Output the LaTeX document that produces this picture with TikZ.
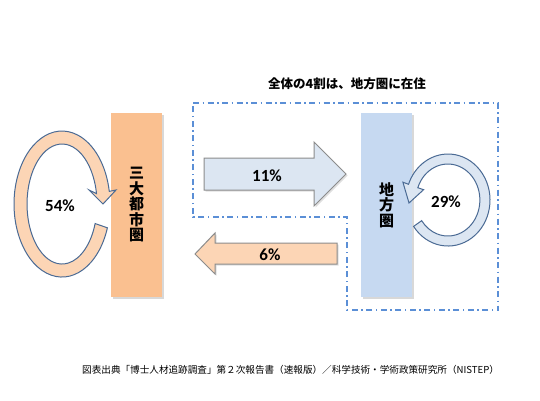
\documentclass[tikz,border=0pt]{standalone}
\usepackage{fontspec}
\newfontfamily\jp{Noto Sans CJK JP}
\newfontfamily\lat{Carlito}
\usetikzlibrary{shadows}
\definecolor{orgR}{HTML}{FAC090}
\definecolor{bluR}{HTML}{C6D9F1}
\definecolor{orgL}{HTML}{FCD5B5}
\definecolor{bluL}{HTML}{DCE6F2}
\definecolor{edgeB}{HTML}{4A6A94}
\definecolor{edgeG}{HTML}{8C8C8C}
\definecolor{dd}{HTML}{5B8FD6}
\begin{document}
\begin{tikzpicture}[x=1pt,y=1pt,
  areabox/.style={inner sep=0pt, minimum width=51pt, minimum height=184pt,
    align=center, font={\jp\bfseries\fontsize{15}{15.5}\selectfont},
    drop shadow={opacity=0.3, shadow xshift=2pt, shadow yshift=-2pt}},
  blockarrow/.style={draw=edgeG, line width=1pt, line join=miter,
    drop shadow={opacity=0.25, shadow xshift=1.5pt, shadow yshift=-1.5pt}},
  looparrow/.style={draw=edgeB, line width=1pt, line join=miter},
  pct/.style={font={\lat\bfseries\fontsize{17}{17}\selectfont}, inner sep=0pt},
  region/.style={draw=dd, line width=1.1pt, dash pattern=on 6pt off 3.5pt on 1.5pt off 3.5pt}
]
\useasboundingbox (0,0) rectangle (540,400);
\fill[white] (0,0) rectangle (540,400);

% region outline
\draw[region] (193,297) -- (498,297) -- (498,90) -- (347,90) -- (347,183) -- (193,183) -- cycle;

% title
\node[font={\jp\bfseries\fontsize{12.5}{13}\selectfont}, inner sep=0pt] (title) at (347,316) {全体の4割は、地方圏に在住};

% area boxes
\node[areabox, fill=orgR] (big) at (136.5,195) {三\\大\\都\\市\\圏};
\node[areabox, fill=bluR] (local) at (386.5,195) {地\\方\\圏};

% block arrows
\fill[blockarrow, fill=bluL] (204,210) -- (314,210) -- (314,194) -- (346,226) -- (314,258) -- (314,242) -- (204,242) -- cycle;
\node[pct] (p11) at (267,224) {11\%};
\fill[blockarrow, fill=orgL] (337,157) -- (215,157) -- (215,167) -- (195,146) -- (215,126) -- (215,136) -- (337,136) -- cycle;
\node[pct] (p6) at (270,145) {6\%};

% left loop
\filldraw[looparrow, fill=orgL]
  (107.4,172.2) arc[start angle=-19, end angle=-350, x radius=48, y radius=73]
  -- (116,210) -- (103,196) -- (89,210) -- (96.5,206.4)
  arc[start angle=-350, end angle=-19, x radius=35, y radius=60] -- cycle;
\node[pct] (p54) at (60,194) {54\%};

% right loop
\filldraw[looparrow, fill=bluL]
  (413.6,173.6) arc[start angle=-145, end angle=160, x radius=42, y radius=46]
  -- (402.9,217.8) -- (409,197) -- (423.6,210.3) -- (417.8,212.3)
  arc[start angle=160, end angle=-145, x radius=32, y radius=36] -- cycle;
\node[pct] (p29) at (446,198) {29\%};

% caption
\node[font={\jp\fontsize{9.6}{10}\selectfont}, inner sep=0pt, anchor=west] (src) at (82,30) {図表出典「博士人材追跡調査」第２次報告書（速報版）／科学技術・学術政策研究所（NISTEP）};
\end{tikzpicture}
\end{document}
